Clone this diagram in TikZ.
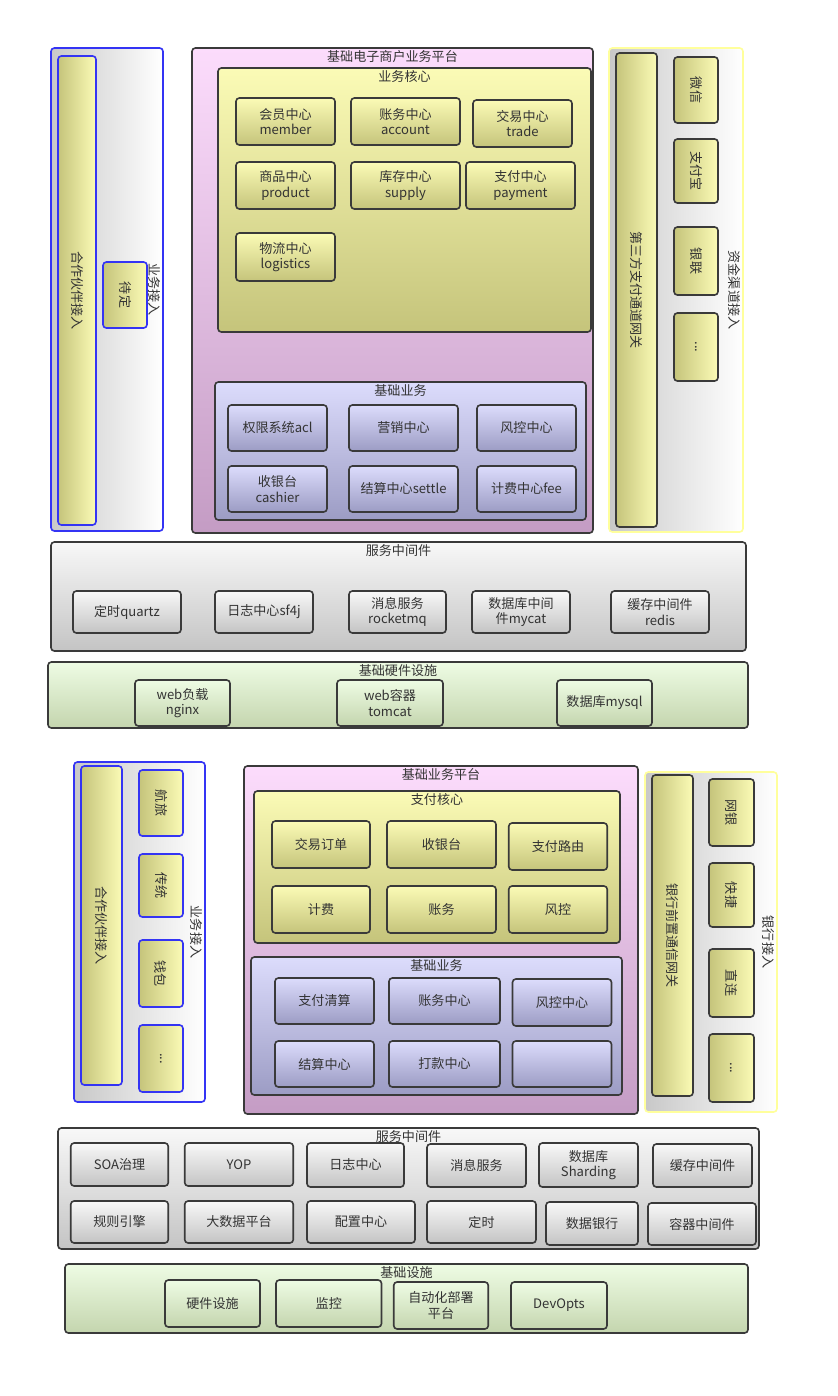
\documentclass[tikz,border=0pt]{standalone}
\usepackage{fontspec}
\setmainfont{Noto Sans CJK SC}
\usepackage{graphicx}
\usepackage{xcolor}
\usetikzlibrary{positioning}

\definecolor{txt}{HTML}{333333}
\definecolor{edge}{HTML}{3A3A3A}
\definecolor{bedge}{HTML}{3434F4}
\definecolor{yedge}{HTML}{FFFF9C}
\definecolor{ytop}{HTML}{FBFBB6}
\definecolor{ybot}{HTML}{C5C47B}
\definecolor{ptop}{HTML}{FCDCFC}
\definecolor{pbot}{HTML}{C49CC4}
\definecolor{btop}{HTML}{DCDCFC}
\definecolor{bbot}{HTML}{9C9CC4}
\definecolor{htop}{HTML}{F8F8F8}
\definecolor{hbot}{HTML}{C4C4C4}
\definecolor{gtop}{HTML}{EEFCE4}
\definecolor{gbot}{HTML}{C4D5AE}
\definecolor{ltop}{HTML}{C8C8C8}

\tikzset{
  blk/.style={rectangle, rounded corners=2.5pt, line width=1.2pt, inner sep=0pt,
    align=center, text=txt, font=\fontsize{9.8}{11.5}\selectfont},
  wh/.style 2 args={minimum width=#1*0.75pt, minimum height=#2*0.75pt},
  ybox/.style={blk, draw=edge, top color=ytop, bottom color=ybot},
  yvbox/.style={blk, draw=edge, left color=ybot, right color=ytop},
  pbox/.style={blk, draw=edge, top color=ptop, bottom color=pbot},
  bbox/.style={blk, draw=edge, top color=btop, bottom color=bbot},
  hbox/.style={blk, draw=edge, top color=htop, bottom color=hbot},
  gbox/.style={blk, draw=edge, top color=gtop, bottom color=gbot},
  lane/.style={blk, left color=ltop, right color=white},
  ttl/.style={inner sep=2pt, text=txt, font=\fontsize{9.8}{11.5}\selectfont},
  vlbl/.style={ttl, rotate=-90, anchor=north}
}

\begin{document}
\begin{tikzpicture}[x=0.75pt, y=-0.75pt]
\useasboundingbox (0,0) rectangle (838,1396);

% 电子商户: 业务接入
\node[lane, draw=bedge, wh={112}{483}] (bizL) at (107,289.5) {};
\node[yvbox, draw=bedge, wh={38}{469}] (partnerL) at (77,290.5) {\rotatebox{-90}{合作伙伴接入}};
\node[yvbox, draw=bedge, wh={44}{66}] (tbd) at (125,295) {\rotatebox{-90}{待定}};
\node[vlbl] (bizLT) at (bizL.east) {业务接入};

% 基础电子商户业务平台
\node[pbox, wh={401}{485}] (ecom) at (392.5,290.5) {};
\node[ttl, below=0pt of ecom.north] (ecomT) {基础电子商户业务平台};
\node[ybox, wh={373}{264}] (core1) at (404.5,200) {};
\node[ttl, below=0pt of core1.north] (core1T) {业务核心};
\node[ybox, wh={99}{47}] (member) at (285.5,121.5) {会员中心\\member};
\node[ybox, wh={109}{47}] (account) at (405.5,121.5) {账务中心\\account};
\node[ybox, wh={99}{47}] (trade) at (522.5,123.5) {交易中心\\trade};
\node[ybox, wh={99}{47}] (product) at (285.5,185.5) {商品中心\\product};
\node[ybox, wh={109}{47}] (supply) at (405.5,185.5) {库存中心\\supply};
\node[ybox, wh={109}{47}] (payment) at (520.5,185.5) {支付中心\\payment};
\node[ybox, wh={99}{48}] (logistics) at (285.5,257) {物流中心\\logistics};

\node[bbox, wh={371}{138}] (base1) at (400.5,451) {};
\node[ttl, below=0pt of base1.north] (base1T) {基础业务};
\node[bbox, wh={99}{46}] (acl) at (277.5,428) {权限系统acl};
\node[bbox, wh={109}{46}] (mkt) at (403.5,428) {营销中心};
\node[bbox, wh={99}{46}] (risk1) at (526.5,428) {风控中心};
\node[bbox, wh={99}{46}] (cashier1) at (277.5,489) {收银台\\cashier};
\node[bbox, wh={109}{46}] (settle1) at (403.5,489) {结算中心settle};
\node[bbox, wh={99}{46}] (fee1) at (526.5,489) {计费中心fee};

% 资金渠道接入
\node[lane, draw=yedge, wh={134}{484}] (chanR) at (676,290) {};
\node[yvbox, wh={41}{474}] (gw3rd) at (636.5,290) {\rotatebox{-90}{第三方支付通道网关}};
\node[yvbox, wh={44}{66}] (wx) at (696,90) {\rotatebox{-90}{微信}};
\node[yvbox, wh={44}{64}] (alipay) at (696,171) {\rotatebox{-90}{支付宝}};
\node[yvbox, wh={44}{68}] (unionpay) at (696,261) {\rotatebox{-90}{银联}};
\node[yvbox, wh={44}{68}] (moreR) at (696,347) {\rotatebox{-90}{...}};
\node[vlbl] (chanRT) at (chanR.east) {资金渠道接入};

% 服务中间件
\node[hbox, wh={695}{109}] (mw1) at (398.5,596.5) {};
\node[ttl, below=0pt of mw1.north] (mw1T) {服务中间件};
\node[hbox, wh={108}{42}] (quartz) at (127,612) {定时quartz};
\node[hbox, wh={98}{42}] (log1) at (264,612) {日志中心sf4j};
\node[hbox, wh={97}{42}] (mq1) at (397.5,612) {消息服务\\rocketmq};
\node[hbox, wh={98}{42}] (mycat) at (521,612) {数据库中间\\件mycat};
\node[hbox, wh={98}{42}] (redis) at (660,612) {缓存中间件\\redis};

% 基础硬件设施
\node[gbox, wh={700}{66}] (hw1) at (398,695) {};
\node[ttl, below=0pt of hw1.north] (hw1T) {基础硬件设施};
\node[gbox, wh={95}{46}] (nginx) at (182.5,703) {web负载\\nginx};
\node[gbox, wh={106}{46}] (tomcat) at (390,703) {web容器\\tomcat};
\node[gbox, wh={95}{46}] (mysql) at (604.5,703) {数据库mysql};

% 支付平台: 业务接入
\node[lane, draw=bedge, wh={131}{340}] (bizB) at (139.5,932) {};
\node[yvbox, draw=bedge, wh={41}{319}] (partnerB) at (101.5,925.5) {\rotatebox{-90}{合作伙伴接入}};
\node[yvbox, draw=bedge, wh={44}{66}] (air) at (161,803) {\rotatebox{-90}{航旅}};
\node[yvbox, draw=bedge, wh={44}{63}] (trad) at (161,885.5) {\rotatebox{-90}{传统}};
\node[yvbox, draw=bedge, wh={44}{67}] (wallet) at (161,973.5) {\rotatebox{-90}{钱包}};
\node[yvbox, draw=bedge, wh={44}{67}] (moreL) at (161,1058.5) {\rotatebox{-90}{...}};
\node[vlbl] (bizBT) at (bizB.east) {业务接入};

% 基础业务平台
\node[pbox, wh={394}{348}] (plat) at (441,940) {};
\node[ttl, below=0pt of plat.north] (platT) {基础业务平台};
\node[ybox, wh={366}{152}] (payCore) at (437,867) {};
\node[ttl, below=0pt of payCore.north] (payCoreT) {支付核心};
\node[ybox, wh={98}{47}] (order) at (321,844.5) {交易订单};
\node[ybox, wh={109}{47}] (cashier2) at (441.5,844.5) {收银台};
\node[ybox, wh={98.5}{47}] (route) at (558,846.5) {支付路由};
\node[ybox, wh={98}{47}] (fee2) at (321,909.5) {计费};
\node[ybox, wh={109}{47}] (acct2) at (441.5,909.5) {账务};
\node[ybox, wh={98.5}{47}] (risk2) at (558,909.5) {风控};

\node[bbox, wh={371}{138}] (base2) at (436.5,1026) {};
\node[ttl, below=0pt of base2.north] (base2T) {基础业务};
\node[bbox, wh={99}{46}] (clear) at (324.5,1001) {支付清算};
\node[bbox, wh={111}{46}] (acctC) at (444.5,1001) {账务中心};
\node[bbox, wh={99}{47}] (riskC) at (562,1002.5) {风控中心};
\node[bbox, wh={99}{46}] (settle2) at (324.5,1064) {结算中心};
\node[bbox, wh={111}{46}] (remit) at (444.5,1064) {打款中心};
\node[bbox, wh={99}{46}] (blank) at (562,1064) {};

% 银行接入
\node[lane, draw=yedge, wh={132}{340}] (bankR) at (711,942) {};
\node[yvbox, wh={41}{321}] (gwBank) at (672.5,935.5) {\rotatebox{-90}{银行前置通信网关}};
\node[yvbox, wh={45}{67}] (netbank) at (731.5,812.5) {\rotatebox{-90}{网银}};
\node[yvbox, wh={45}{64}] (quick) at (731.5,895) {\rotatebox{-90}{快捷}};
\node[yvbox, wh={45}{68}] (direct) at (731.5,983) {\rotatebox{-90}{直连}};
\node[yvbox, wh={45}{68}] (moreB) at (731.5,1068) {\rotatebox{-90}{...}};
\node[vlbl] (bankRT) at (bankR.east) {银行接入};

% 服务中间件
\node[hbox, wh={701}{121}] (mw2) at (408.5,1188.5) {};
\node[ttl, below=0pt of mw2.north] (mw2T) {服务中间件};
\node[hbox, wh={97.5}{43}] (soa) at (119.5,1164.5) {SOA治理};
\node[hbox, wh={108.5}{43}] (yop) at (239,1164.5) {YOP};
\node[hbox, wh={97}{44}] (log2) at (355.5,1165) {日志中心};
\node[hbox, wh={99}{43}] (mq2) at (476.5,1165.5) {消息服务};
\node[hbox, wh={99}{44}] (sharding) at (588.5,1165) {数据库\\Sharding};
\node[hbox, wh={99}{43}] (cache2) at (702.5,1165.5) {缓存中间件};
\node[hbox, wh={97.5}{42}] (rule) at (119.5,1222) {规则引擎};
\node[hbox, wh={108.5}{42}] (bigdata) at (239,1222) {大数据平台};
\node[hbox, wh={108}{42}] (config) at (361,1222) {配置中心};
\node[hbox, wh={109}{42}] (timer) at (481.5,1222) {定时};
\node[hbox, wh={92}{43}] (databank) at (592,1223.5) {数据银行};
\node[hbox, wh={108}{42}] (container) at (702,1224) {容器中间件};

% 基础设施
\node[gbox, wh={683}{69}] (infra) at (406.5,1298.5) {};
\node[ttl, below=0pt of infra.north] (infraT) {基础设施};
\node[gbox, wh={95}{47}] (hw2) at (212.5,1303.5) {硬件设施};
\node[gbox, wh={105.5}{47}] (monitor) at (328.75,1303.5) {监控};
\node[gbox, wh={94.5}{47}] (deploy) at (441,1305.5) {自动化部署\\平台};
\node[gbox, wh={96}{47}] (devops) at (559,1305.5) {DevOpts};
\end{tikzpicture}
\end{document}
